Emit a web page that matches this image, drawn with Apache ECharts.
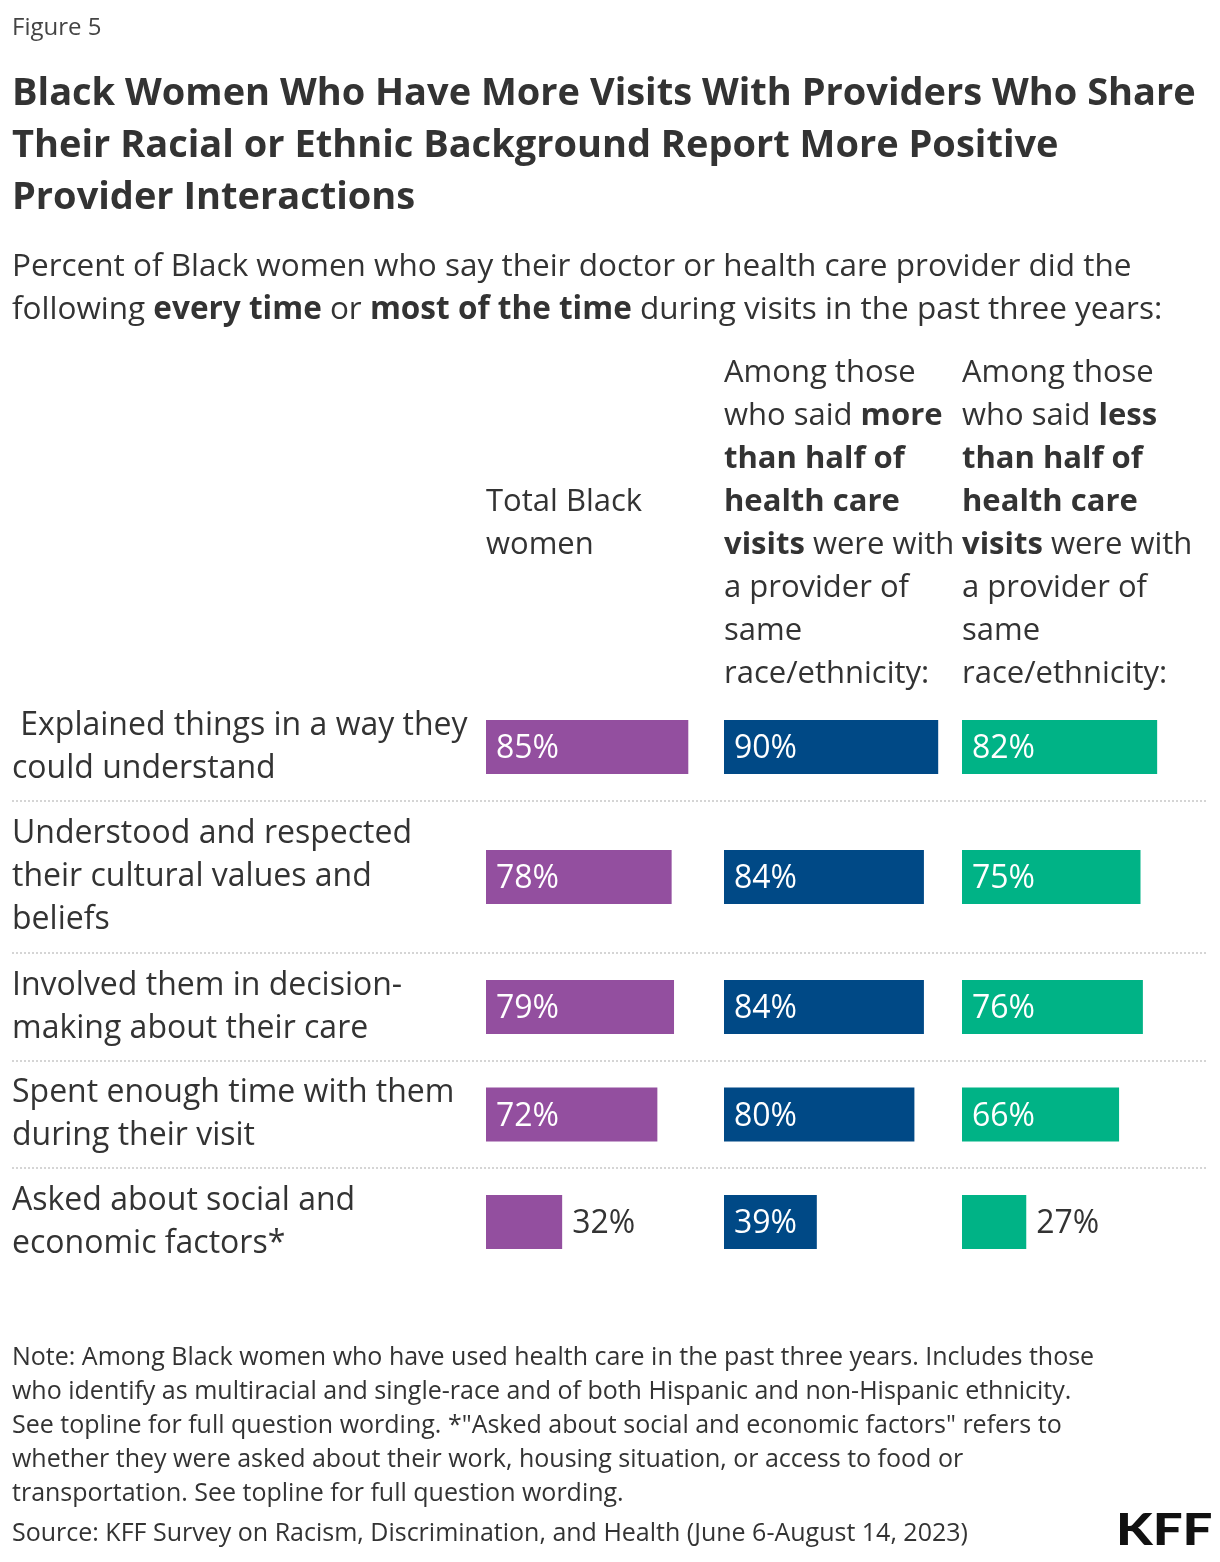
<!DOCTYPE html>
<html>
<head>
<meta charset="utf-8">
<script src="https://cdn.jsdelivr.net/npm/echarts@6/dist/echarts.min.js"></script>
<style>
html,body{margin:0;padding:0;background:#fff;}
#chart{width:1220px;height:1562px;}
</style>
</head>
<body>
<div id="chart"></div>
<script>
// ---- Data ----
const categories = [
  ' Explained things in a way they\ncould understand',
  'Understood and respected\ntheir cultural values and\nbeliefs',
  'Involved them in decision-\nmaking about their care',
  'Spent enough time with them\nduring their visit',
  'Asked about social and\neconomic factors*'
];
const totalBlackWomen = [85, 78, 79, 72, 32];
const moreThanHalfSame = [90, 84, 84, 80, 39];
const lessThanHalfSame = [82, 75, 76, 66, 27];

const header1 = ['Total Black', 'women'];
const header2 = ['Among those', 'who said {b|more}', '{b|than half of}', '{b|health care}', '{b|visits} were with', 'a provider of', 'same', 'race/ethnicity:'];
const header3 = ['Among those', 'who said {b|less}', '{b|than half of}', '{b|health care}', '{b|visits} were with', 'a provider of', 'same', 'race/ethnicity:'];

const titleLines = [
  'Black Women Who Have More Visits With Providers Who Share',
  'Their Racial or Ethnic Background Report More Positive',
  'Provider Interactions'
];
const subtitleLines = [
  'Percent of Black women who say their doctor or health care provider did the',
  'following {b|every time} or {b|most of the time} during visits in the past three years:'
];
const noteLines = [
  'Note: Among Black women who have used health care in the past three years. Includes those',
  'who identify as multiracial and single-race and of both Hispanic and non-Hispanic ethnicity.',
  'See topline for full question wording. *"Asked about social and economic factors" refers to',
  'whether they were asked about their work, housing situation, or access to food or',
  'transportation. See topline for full question wording.'
];
const sourceText = 'Source: KFF Survey on Racism, Discrimination, and Health (June 6-August 14, 2023)';

// ---- Layout / style ----
const FONT = '"Open Sans", "Noto Sans", sans-serif';
const TEXT = '#333333';
const colors = ['#934F9F', '#004986', '#00B386'];
const seriesValues = [totalBlackWomen, moreThanHalfSame, lessThanHalfSame];
const rowBounds = [693, 801, 953, 1061, 1168, 1276];
const colLefts = [486, 724, 962];
const colWidth = 238;

const grids = [], xAxes = [], yAxes = [], series = [];
categories.forEach((cat, r) => {
  const top = rowBounds[r], h = rowBounds[r + 1] - rowBounds[r];
  seriesValues.forEach((vals, c) => {
    const gi = grids.length;
    grids.push({left: colLefts[c], top: top, width: colWidth, height: h, containLabel: false, outerBoundsMode: 'none'});
    xAxes.push({gridIndex: gi, type: 'value', min: 0, max: 100, show: false});
    yAxes.push({
      gridIndex: gi, type: 'category', data: [cat],
      axisLine: {show: false}, axisTick: {show: false}, splitLine: {show: false},
      axisLabel: c === 0 ? {
        show: true, align: 'left', margin: colLefts[0] - 12,
        fontFamily: FONT, fontSize: 32, lineHeight: 43, color: TEXT,
        padding: [8, 0, 0, 0]
      } : {show: false}
    });
    const v = vals[r];
    const outside = v < 35;
    series.push({
      type: 'bar', xAxisIndex: gi, yAxisIndex: gi,
      data: [v], barWidth: 54, silent: true,
      itemStyle: {color: colors[c]},
      label: {
        show: true,
        position: outside ? 'right' : 'insideLeft',
        distance: 10,
        offset: [0, 2],
        formatter: '{c}%',
        fontFamily: FONT, fontSize: 32, fontWeight: 500,
        color: outside ? TEXT : '#ffffff'
      }
    });
  });
});

const graphics = [];
function txt(lines, left, top, size, lh, weight, color) {
  graphics.push({
    type: 'text', left: left, top: top, silent: true,
    style: {
      text: lines.join('\n'), fill: color || TEXT,
      font: (weight || 'normal') + ' ' + size + 'px ' + FONT,
      lineHeight: lh
    }
  });
}
txt(['Figure 5'], 12, 14, 24, 28, 'normal', '#444444');
txt(titleLines, 12, 68, 38, 52, 'bold', TEXT);
const richSub = {b: {fontFamily: FONT, fontWeight: 'bold', fontSize: 31.5, lineHeight: 43, fill: TEXT}};
graphics.push({type:'text', left: 12, top: 246, silent:true,
  style:{text: subtitleLines.join('\n'), fill: TEXT, fontFamily: FONT, fontSize: 31.5, lineHeight: 43, rich: richSub}});
const richHead = {b: {fontFamily: FONT, fontWeight: 'bold', fontSize: 31, lineHeight: 43, fill: TEXT}};
graphics.push({type:'text', left: colLefts[0], top: 481, silent:true,
  style:{text: header1.join('\n'), fill: TEXT, fontFamily: FONT, fontSize: 31, lineHeight: 43}});
graphics.push({type:'text', left: colLefts[1], top: 352, silent:true,
  style:{text: header2.join('\n'), fill: TEXT, fontFamily: FONT, fontSize: 31, lineHeight: 43, rich: richHead}});
graphics.push({type:'text', left: colLefts[2], top: 352, silent:true,
  style:{text: header3.join('\n'), fill: TEXT, fontFamily: FONT, fontSize: 31, lineHeight: 43, rich: richHead}});
// dotted separators between rows
for (let i = 1; i < rowBounds.length - 1; i++) {
  graphics.push({type: 'line', silent: true,
    shape: {x1: 12, y1: rowBounds[i], x2: 1208, y2: rowBounds[i]},
    style: {stroke: '#c8c8c8', lineWidth: 1.5, lineDash: [2, 2]}});
}
txt(noteLines, 12, 1341, 25, 34, 'normal', TEXT);
txt([sourceText], 12, 1517, 25, 34, 'normal', TEXT);
graphics.push({type:'text', left: 1116, top: 1509, silent:true, scaleX: 1.2,
  style:{text:'KFF', fill:'#111111', font:'900 44px Lato, "Open Sans", sans-serif'}});

const chart = echarts.init(document.getElementById('chart'), null, {renderer: 'canvas'});
chart.setOption({
  animation: false,
  backgroundColor: '#ffffff',
  grid: grids, xAxis: xAxes, yAxis: yAxes, series: series,
  graphic: graphics
});
</script>
</body>
</html>
